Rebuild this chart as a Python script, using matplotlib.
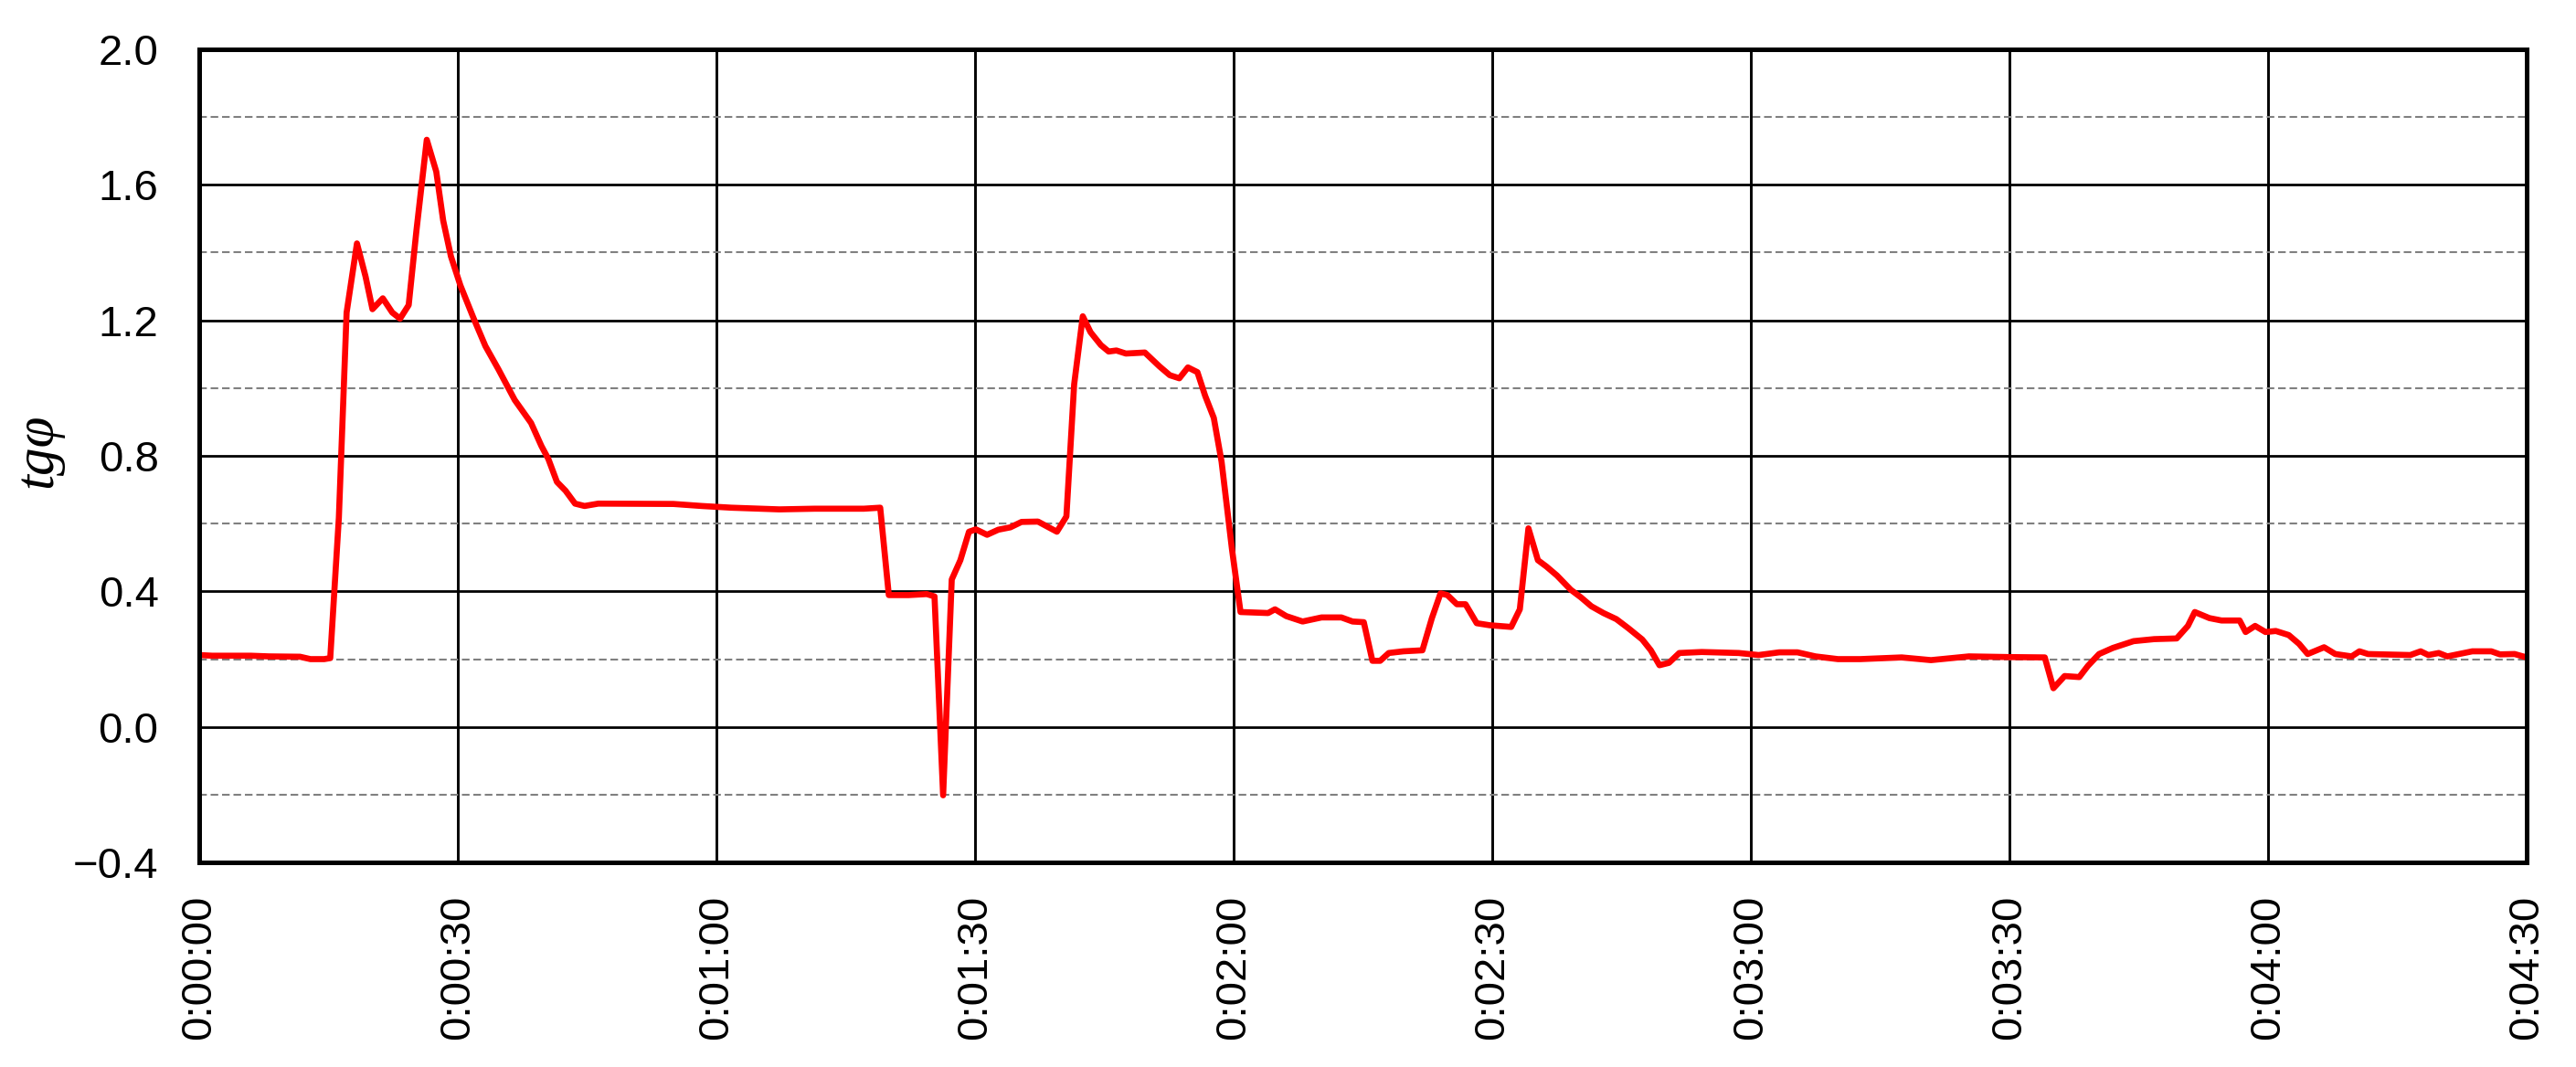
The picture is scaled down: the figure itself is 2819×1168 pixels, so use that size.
import matplotlib
matplotlib.use("Agg")
import matplotlib.pyplot as plt
from matplotlib.ticker import FuncFormatter

# time in seconds
t = [0, 1.5, 6, 8.1, 11.7, 12.9, 14.5, 15.2, 16.2, 17.1, 18.3, 19.3, 20.1, 21.3, 22.4, 23.3,
     24.3, 25.2, 26.4, 27.5, 28.3, 29.2, 30.3, 31.8, 33.2, 34.7, 36.6, 38.5, 39.7, 40.5, 41.5,
     42.5, 43.6, 44.7, 46.3, 55.0, 58.3, 61.7, 67.3, 71.4, 77.1, 79.0, 80.0, 82.3, 84.4, 85.3,
     86.3, 87.3, 88.3, 89.3, 90.1, 91.4, 92.7, 94.1, 95.4, 97.3, 99.5, 100.6, 101.5, 102.5,
     103.4, 104.6, 105.5, 106.4, 107.5, 109.7, 111.4, 112.6, 113.7, 114.7, 115.8, 116.7, 117.7,
     118.6, 119.8, 120.8, 124.0, 124.8, 126.1, 128.0, 130.2, 132.5, 133.8, 135.1, 136.1, 137.0,
     138.0, 139.7, 141.9, 143.0, 144.0, 144.8, 145.9, 146.9, 148.2, 149.7, 152.2, 153.2, 154.2,
     155.3, 156.3, 157.5, 159.1, 160.3, 161.5, 162.9, 164.4, 165.8, 167.4, 168.4, 169.4, 170.5,
     171.7, 174.3, 178.6, 180.9, 183.3, 185.4, 187.5, 190.1, 192.7, 197.5, 200.9, 205.3, 210.0,
     214.1, 215.1, 216.4, 218.1, 219.1, 220.4, 222.0, 224.4, 226.8, 229.4, 230.7, 231.5, 233.2,
     234.6, 236.7, 237.4, 238.5, 239.7, 240.9, 242.4, 243.6, 244.6, 246.5, 247.8, 249.7, 250.6,
     251.6, 256.5, 257.7, 258.6, 259.8, 260.8, 263.7, 265.9, 266.9, 268.6, 270.0]

tg_phi = [0.212, 0.21, 0.21, 0.208, 0.207, 0.200, 0.200, 0.203, 0.617, 1.223, 1.427, 1.329,
          1.233, 1.265, 1.223, 1.205, 1.245, 1.465, 1.733, 1.639, 1.495, 1.389, 1.303, 1.208,
          1.124, 1.056, 0.965, 0.897, 0.829, 0.791, 0.723, 0.697, 0.659, 0.652, 0.659, 0.658,
          0.652, 0.647, 0.642, 0.644, 0.644, 0.647, 0.389, 0.389, 0.392, 0.385, -0.202, 0.435,
          0.492, 0.576, 0.583, 0.567, 0.582, 0.589, 0.605, 0.606, 0.576, 0.621, 1.011, 1.212,
          1.165, 1.127, 1.108, 1.111, 1.102, 1.105, 1.064, 1.038, 1.029, 1.061, 1.047, 0.977,
          0.912, 0.783, 0.526, 0.339, 0.336, 0.347, 0.327, 0.311, 0.323, 0.323, 0.311, 0.309,
          0.195, 0.195, 0.218, 0.223, 0.226, 0.321, 0.394, 0.389, 0.362, 0.362, 0.306, 0.300,
          0.295, 0.347, 0.586, 0.492, 0.473, 0.447, 0.405, 0.382, 0.356, 0.336, 0.318, 0.291,
          0.258, 0.226, 0.182, 0.189, 0.218, 0.221, 0.218, 0.212, 0.220, 0.220, 0.208, 0.200,
          0.200, 0.205, 0.197, 0.208, 0.206, 0.205, 0.114, 0.150, 0.147, 0.180, 0.215, 0.233,
          0.253, 0.259, 0.261, 0.298, 0.339, 0.321, 0.314, 0.314, 0.280, 0.298, 0.280, 0.283,
          0.271, 0.245, 0.215, 0.235, 0.215, 0.208, 0.223, 0.215, 0.212, 0.223, 0.212, 0.218,
          0.208, 0.223, 0.223, 0.214, 0.215, 0.205]

x_ticks = [0, 30, 60, 90, 120, 150, 180, 210, 240, 270]
y_ticks = [-0.4, 0.0, 0.4, 0.8, 1.2, 1.6, 2.0]
y_minor = [-0.2, 0.2, 0.6, 1.0, 1.4, 1.8]
y_label = "tgφ"

plt.rcParams['font.family'] = ['Liberation Sans', 'DejaVu Sans']
plt.rcParams['lines.scale_dashes'] = False

fig = plt.figure(figsize=(28.19, 11.68), dpi=100)
ax = fig.add_axes([218 / 2819, 1 - 944 / 1168, (2765 - 218) / 2819, (944 - 54) / 1168])

ax.set_xlim(0, 270)
ax.set_ylim(-0.4, 2.0)

# grid
for xv in x_ticks:
    ax.axvline(xv, color='black', lw=2.1, zorder=1)
for yv in y_ticks:
    ax.axhline(yv, color='black', lw=2.0, zorder=1)
for yv in y_minor:
    ax.axhline(yv, color='#808080', lw=1.5, linestyle=(0, (6, 3)), zorder=1)

ax.plot(t, tg_phi, color='#FF0000', lw=4.8, zorder=3, solid_joinstyle='round')

ax.set_xticks(x_ticks)
ax.set_yticks(y_ticks)


def fmt_time(v, pos):
    s = int(round(v))
    return f"{s // 3600}:{(s % 3600) // 60:02d}:{s % 60:02d}"


ax.xaxis.set_major_formatter(FuncFormatter(fmt_time))
ax.yaxis.set_major_formatter(FuncFormatter(lambda v, p: f"{v:.1f}".replace('-', '\u2212')))
ax.tick_params(axis='x', length=0, pad=26, labelsize=34, labelrotation=90)
ax.tick_params(axis='y', length=0, pad=32, labelsize=34)

for s in ax.spines.values():
    s.set_linewidth(3.6)
    s.set_color('black')
    s.set_zorder(4)

fig.text(42 / 2819, 1 - 493 / 1168, y_label, rotation=90, ha='center', va='center',
         fontsize=44, family=['Liberation Serif', 'DejaVu Serif'], style='italic')

fig.savefig('out.png', dpi=100)
